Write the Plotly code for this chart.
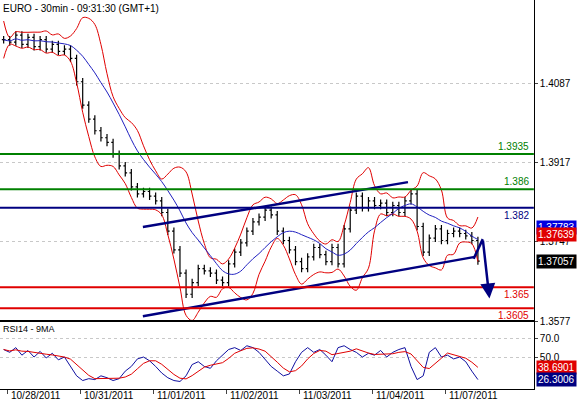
import pandas as pd
import plotly.graph_objects as go

# price closes, one bar every ~2 hours
bar_idx = list(range(-3, 76))
close = [1.418, 1.4175, 1.419, 1.417, 1.4185, 1.4165, 1.418, 1.416, 1.417, 1.4155,
         1.416, 1.414, 1.409, 1.404, 1.401, 1.3985, 1.397, 1.396, 1.3935, 1.391,
         1.3895, 1.3865, 1.385, 1.3855, 1.3845, 1.3835, 1.381, 1.377, 1.373, 1.368,
         1.3635, 1.366, 1.369, 1.3685, 1.368, 1.3665, 1.366, 1.370, 1.3725, 1.3745,
         1.377, 1.379, 1.380, 1.3815, 1.3805, 1.377, 1.375, 1.373, 1.3705, 1.369,
         1.3715, 1.3735, 1.372, 1.3705, 1.3735, 1.370, 1.3775, 1.3815, 1.3845, 1.382,
         1.3835, 1.3825, 1.383, 1.381, 1.3825, 1.381, 1.3835, 1.385, 1.378, 1.3725,
         1.3755, 1.3775, 1.375, 1.3765, 1.377, 1.3765, 1.376, 1.375, 1.3706]
rsi = [58, 55, 60, 52, 57, 50, 56, 49, 54, 47,
       50, 40, 30, 25, 27, 26, 30, 28, 25, 27,
       35, 40, 48, 50, 46, 40, 33, 28, 25, 24,
       30, 42, 45, 40, 38, 46, 52, 58, 60, 57,
       62, 60, 55, 48, 40, 35, 30, 32, 45, 55,
       60, 55, 58, 52, 45, 60, 62, 58, 55, 50,
       54, 52, 57, 50, 55, 58, 60, 40, 26, 30,
       55, 60, 50, 52, 48, 50, 45, 35, 26]

levels = [1.3935, 1.386, 1.382, 1.365, 1.3605]
level_colors = ['#008000', '#008000', '#000080', '#e00000', '#e00000']
level_text = ['1.3935', '1.386', '1.382', '1.365', '1.3605']

day_ticks = [-2.3, 9.7, 21.7, 33.7, 45.7, 57.7, 69.7]
day_labels = ['10/28/2011', '10/31/2011', '11/01/2011', '11/02/2011',
              '11/03/2011', '11/04/2011', '11/07/2011']

upper_x, upper_y = [19.9, 63.5], [1.3779, 1.3875]
lower_x, lower_y = [19.9, 74.5], [1.3588, 1.3715]
arrow_x, arrow_y = [74.3, 75.8, 76.9], [1.3711, 1.3753, 1.3626]

s = pd.Series(close)
opn = [close[0]] + close[:-1]
high = [max(o, c) + 0.0008 for o, c in zip(opn, close)]
low = [min(o, c) - 0.0008 for o, c in zip(opn, close)]
mid = s.rolling(6, min_periods=1).mean()
sd = s.rolling(6, min_periods=2).std().fillna(0.002)
ma = s.rolling(10, min_periods=1).mean()
rsi_ma = pd.Series(rsi).rolling(4, min_periods=1).mean()

fig = go.Figure()
fig.add_trace(go.Ohlc(x=bar_idx, open=opn, high=high, low=low, close=close,
                      increasing_line_color='black', decreasing_line_color='black',
                      line_width=1.2, tickwidth=0.3, xaxis='x', yaxis='y'))
for band in [mid + 2 * sd, mid - 2 * sd]:
    fig.add_trace(go.Scatter(x=bar_idx, y=band, mode='lines', line=dict(color='#e00000', width=1, shape='spline')))
fig.add_trace(go.Scatter(x=bar_idx, y=ma, mode='lines', line=dict(color='#2020c0', width=1, shape='spline')))

for lv, col in zip(levels, level_colors):
    fig.add_shape(type='line', xref='x domain', x0=0, x1=1, y0=lv, y1=lv, line=dict(color=col, width=2))
for lv, col, t in zip(levels, level_colors, level_text):
    fig.add_annotation(x=0.995, xref='x domain', y=lv, text=t, showarrow=False,
                       xanchor='right', yanchor='top' if col == '#e00000' or t == '1.382' else 'bottom',
                       font=dict(color=col, size=10))

fig.add_trace(go.Scatter(x=upper_x, y=upper_y, mode='lines', line=dict(color='#000080', width=2.5)))
fig.add_trace(go.Scatter(x=lower_x, y=lower_y, mode='lines', line=dict(color='#000080', width=2.5)))
fig.add_trace(go.Scatter(x=arrow_x[:2], y=arrow_y[:2], mode='lines', line=dict(color='#000080', width=2.5)))
fig.add_annotation(x=arrow_x[2], y=arrow_y[2], ax=arrow_x[1], ay=arrow_y[1], xref='x', yref='y',
                   axref='x', ayref='y', showarrow=True, arrowhead=2, arrowsize=1.2,
                   arrowwidth=2.5, arrowcolor='#000080', text='')

fig.add_trace(go.Scatter(x=bar_idx, y=rsi, mode='lines', line=dict(color='#1010a0', width=1), xaxis='x2', yaxis='y2'))
fig.add_trace(go.Scatter(x=bar_idx, y=rsi_ma, mode='lines', line=dict(color='#e00000', width=1), xaxis='x2', yaxis='y2'))

xr = [-3.6, 84.2]
fig.update_layout(
    width=586, height=402, margin=dict(l=0, r=0, t=0, b=13, autoexpand=False),
    paper_bgcolor='white', plot_bgcolor='white', showlegend=False,
    font=dict(family='Arial, Liberation Sans', size=10, color='black'),
    xaxis=dict(domain=[0, 0.911], range=xr, showticklabels=False, rangeslider=dict(visible=False),
               showgrid=False, zeroline=False, showline=True, linecolor='black', mirror=True, anchor='y'),
    yaxis=dict(domain=[0.174, 1], range=[1.3577, 1.4265], side='right', tickvals=[1.4087, 1.3917, 1.3747, 1.3577],
               ticktext=['1.4087', '1.3917', '1.3747', '1.3577'], showgrid=True, gridcolor='#c8c8c8', griddash='dot',
               zeroline=False, showline=True, linecolor='black', mirror=True, ticks='outside', ticklen=3),
    xaxis2=dict(domain=[0, 0.911], range=xr, tickvals=day_ticks, showticklabels=False, ticks='outside',
                ticklen=4, showgrid=False, zeroline=False, showline=True,
                linecolor='black', mirror=True, anchor='y2'),
    yaxis2=dict(domain=[0, 0.174], range=[16, 88], side='right', tickvals=[70, 50], ticktext=['70.0', '50.0'],
                showgrid=True, gridcolor='#c8c8c8', griddash='dot', zeroline=False, showline=True,
                linecolor='black', mirror=True, anchor='x2', ticks='outside', ticklen=3),
)

for tv, lab in zip(day_ticks, day_labels):
    fig.add_annotation(x=tv, xref='x2', y=0, yref='paper', text=lab, showarrow=False,
                       xanchor='left', yanchor='top', xshift=1, yshift=1, font=dict(size=10))

fig.add_annotation(x=0.002, y=0.998, xref='paper', yref='paper', text='EURO - 30min - 09:31:30 (GMT+1)',
                   showarrow=False, xanchor='left', yanchor='top', font=dict(size=10))
fig.add_annotation(x=0.002, y=0.171, xref='paper', yref='paper', text='RSI14 - 9MA',
                   showarrow=False, xanchor='left', yanchor='top', font=dict(size=9))

tags = [(1.37783, '#0000e0', 'y'), (1.37639, '#e00000', 'y'), (1.37057, 'black', 'y'),
        (38.6901, '#e00000', 'y2'), (26.3006, '#000080', 'y2')]
for val, col, ax in tags:
    txt = f'{val:.5f}' if ax == 'y' else f'{val:.4f}'
    fig.add_annotation(x=0.914, xref='paper', y=val, yref=ax, text=txt, showarrow=False, xanchor='left',
                       bgcolor=col, font=dict(color='white', size=10), borderpad=1)

fig.write_html("out.html", config={'displayModeBar': False},
               post_script="document.body.style.margin='0';")
